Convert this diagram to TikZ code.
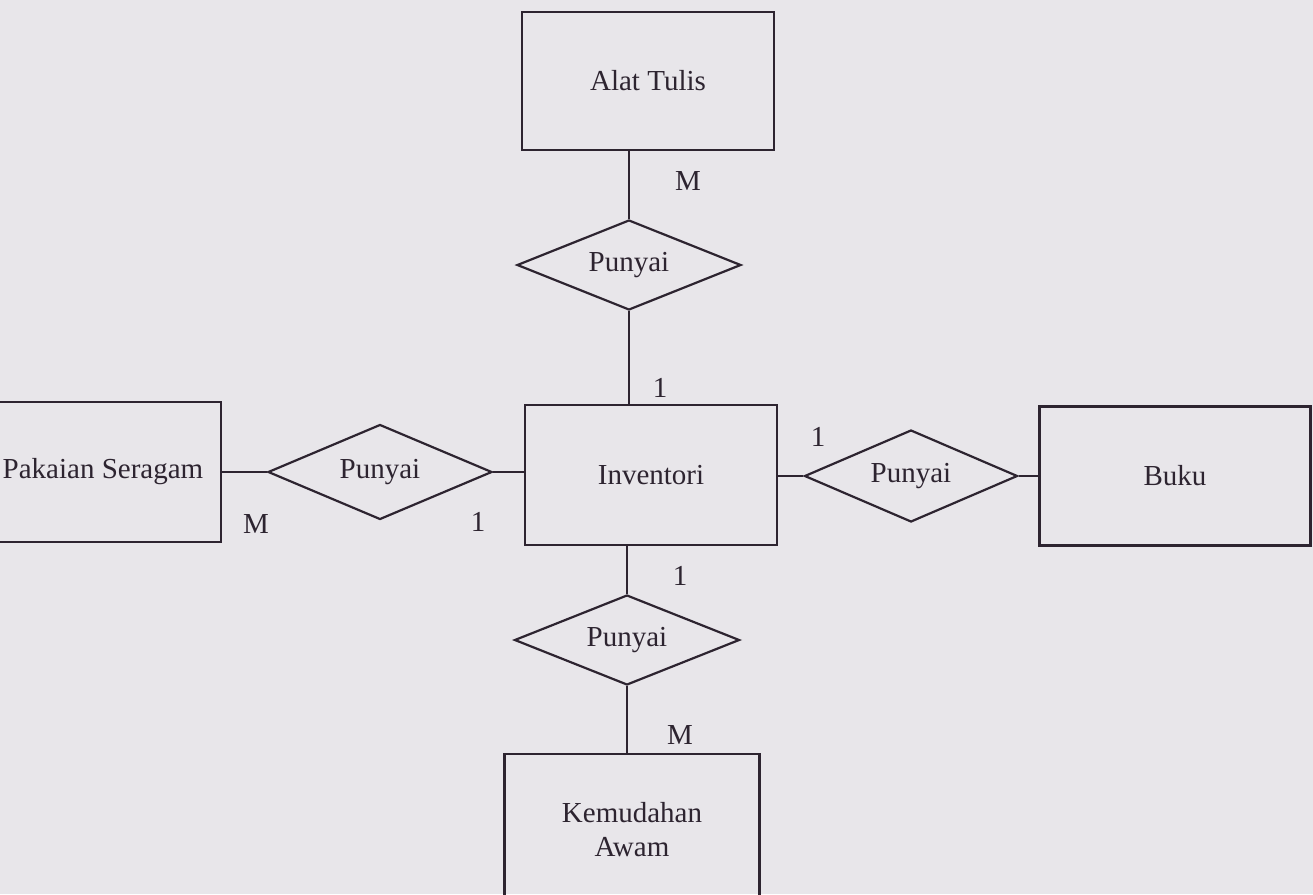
\documentclass[tikz,border=0pt]{standalone}
\usepackage{fontspec}
\setmainfont{Liberation Serif}
\usetikzlibrary{shapes.geometric}
\definecolor{paper}{RGB}{232,230,234}
\definecolor{ink}{RGB}{45,36,48}
\begin{document}
\begin{tikzpicture}[x=1pt,y=-1pt,
  ent/.style={draw=ink,line width=2.2pt,inner sep=0pt,text=ink,font=\fontsize{29}{34}\selectfont,align=center},
  rel/.style={draw=ink,line width=2.2pt,diamond,aspect=2.3,inner sep=0pt,text=ink,font=\fontsize{29}{34}\selectfont},
  conn/.style={draw=ink,line width=2.2pt},
  card/.style={text=ink,font=\fontsize{29}{34}\selectfont,inner sep=0pt}]
\fill[paper] (0,0) rectangle (1313,894);
\useasboundingbox (0,0) rectangle (1313,894);
% entities
\node[ent,minimum width=252pt,minimum height=138pt] (alat) at (648,81) {Alat Tulis};
\node[ent,minimum width=252pt,minimum height=140pt] (inv) at (651,475) {Inventori};
\node[ent,minimum width=230pt,minimum height=140pt,anchor=east] (pak) at (222,472) {};
\node[text=ink,font=\fontsize{29}{34}\selectfont,inner sep=0pt] (paktxt) at (103,472) {Pakaian Seragam};
\node[ent,minimum width=271pt,minimum height=139pt] (buku) at (1175,476) {Buku};
\node[ent,minimum width=255pt,minimum height=150pt,anchor=north] (kem) at (632,753) {Kemudahan\\Awam};
% relationships
\node[rel,minimum width=224pt,minimum height=90pt] (r1) at (629,265) {Punyai};
\node[rel,minimum width=224pt,minimum height=95pt] (r2) at (380,472) {Punyai};
\node[rel,minimum width=213pt,minimum height=92pt] (r3) at (911,476) {Punyai};
\node[rel,minimum width=225pt,minimum height=90pt] (r4) at (627,640) {Punyai};
% connectors
\draw[conn] (alat.south -| r1.north) -- (r1.north);
\draw[conn] (r1.south) -- (r1.south |- inv.north);
\draw[conn] (pak.east |- r2.west) -- (r2.west);
\draw[conn] (r2.east) -- (inv.west |- r2.east);
\draw[conn] (inv.east |- r3.west) -- (r3.west);
\draw[conn] (r3.east) -- (buku.west |- r3.east);
\draw[conn] (inv.south -| r4.north) -- (r4.north);
\draw[conn] (r4.south) -- (r4.south |- kem.north);
% cardinalities
\node[card] (c1) at (688,181) {M};
\node[card] (c2) at (660,388) {1};
\node[card] (c3) at (256,524) {M};
\node[card] (c4) at (478,522) {1};
\node[card] (c5) at (818,437) {1};
\node[card] (c6) at (680,576) {1};
\node[card] (c7) at (680,735) {M};
\end{tikzpicture}
\end{document}
